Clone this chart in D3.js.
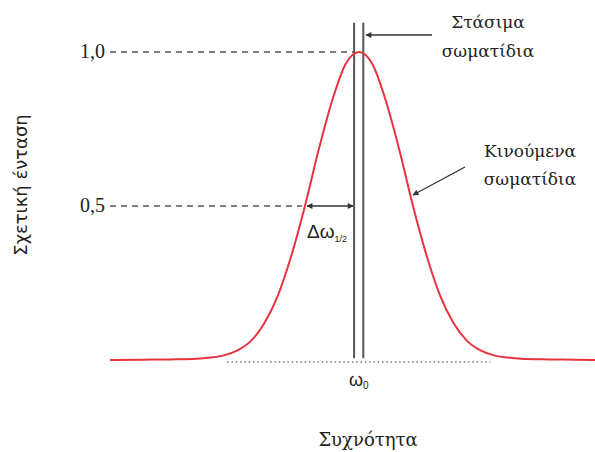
<!DOCTYPE html>
<html>
<head>
<meta charset="utf-8">
<script src="https://cdn.jsdelivr.net/npm/d3@7"></script>
<style>
  html, body { margin: 0; padding: 0; background: #fff; }
  svg { display: block; }
</style>
</head>
<body>
<svg id="chart" width="595" height="452"></svg>
<script>
// Frequency offset from ω0, in units of the half width at half maximum
const freqOffset = [-4.61, -4.0, -3.5, -3.0, -2.75, -2.5, -2.25, -2.0, -1.75, -1.5, -1.25, -1.0, -0.75, -0.5, -0.25,
                    0.0, 0.25, 0.5, 0.75, 1.0, 1.25, 1.5, 1.75, 2.0, 2.25, 2.5, 2.75, 3.0, 3.5, 4.0, 4.37];
// Relative intensity of the moving particles' line
const intensity  = [0.0, 0.001, 0.002, 0.004, 0.008, 0.015, 0.031, 0.062, 0.12, 0.21, 0.34, 0.5, 0.68, 0.84, 0.96,
                    1.0, 0.96, 0.84, 0.68, 0.5, 0.34, 0.21, 0.12, 0.062, 0.031, 0.015, 0.008, 0.004, 0.002, 0.001, 0.0];
// Narrow line of stationary particles (two edges)
const stationaryEdges = [-0.09, 0.08];
const stationaryTop = 1.095;
// Reference levels on the intensity axis
const levelValues = [1.0, 0.5];
const levelLabels = ["1,0", "0,5"];
// Extent of the dotted baseline
const baselineExtent = [-2.44, 2.43];

const svg = d3.select("#chart");
const x = d3.scaleLinear().domain([-4.61, 4.37]).range([110, 595]);
const y = d3.scaleLinear().domain([0, 1]).range([360, 52]);

const grey = "#555";
const red = "#e8333f";
const serif = "'DejaVu Serif', serif";

// arrow markers
const defs = svg.append("defs");
function marker(id, orient) {
  defs.append("marker")
    .attr("id", id).attr("viewBox", "0 0 10 10")
    .attr("refX", 9).attr("refY", 5)
    .attr("markerWidth", 7).attr("markerHeight", 6)
    .attr("markerUnits", "userSpaceOnUse")
    .attr("orient", orient)
    .append("path").attr("d", "M0,0L10,5L0,10z").attr("fill", "#333");
}
marker("head", "auto");
marker("headStart", "auto-start-reverse");

// dotted baseline
svg.append("line")
  .attr("x1", x(baselineExtent[0])).attr("x2", x(baselineExtent[1]))
  .attr("y1", y(0) + 2).attr("y2", y(0) + 2)
  .attr("stroke", "#777").attr("stroke-width", 1.5)
  .attr("stroke-dasharray", "1.5,2.8");

// dashed reference levels and their labels
const halfLeft = x(-1);
levelValues.forEach((v, i) => {
  const xEnd = v === 1 ? x(stationaryEdges[0]) : halfLeft - 3;
  svg.append("line")
    .attr("x1", 110).attr("x2", xEnd)
    .attr("y1", y(v)).attr("y2", y(v))
    .attr("stroke", grey).attr("stroke-width", 1.3)
    .attr("stroke-dasharray", "6,5");
  svg.append("text")
    .attr("x", 105).attr("y", y(v) + 6)
    .attr("text-anchor", "end")
    .attr("font-family", "'Liberation Serif', serif")
    .attr("font-size", 20).attr("fill", "#222")
    .text(levelLabels[i]);
});

// stationary particles: two vertical lines
stationaryEdges.forEach(e => {
  svg.append("line")
    .attr("x1", x(e)).attr("x2", x(e))
    .attr("y1", y(stationaryTop)).attr("y2", y(0.006))
    .attr("stroke", grey).attr("stroke-width", 2);
});

// moving particles: broadened profile
const line = d3.line()
  .x((d, i) => x(freqOffset[i]))
  .y(d => y(d))
  .curve(d3.curveMonotoneX);
svg.append("path")
  .datum(intensity)
  .attr("d", line)
  .attr("fill", "none")
  .attr("stroke", red).attr("stroke-width", 2);

// width at half maximum arrow
svg.append("line")
  .attr("x1", halfLeft + 2).attr("x2", x(stationaryEdges[0]) - 1)
  .attr("y1", y(0.5)).attr("y2", y(0.5))
  .attr("stroke", "#333").attr("stroke-width", 1.3)
  .attr("marker-start", "url(#headStart)")
  .attr("marker-end", "url(#head)");
const dw = svg.append("text")
  .attr("x", 307).attr("y", 238)
  .attr("font-family", "'Liberation Sans', Arial, sans-serif")
  .attr("fill", "#222");
dw.append("tspan").attr("font-size", 19).text("Δω");
dw.append("tspan").attr("font-size", 9).attr("dy", 4).text("1/2");

// ω0 label
const w0 = svg.append("text")
  .attr("x", 349).attr("y", 386)
  .attr("font-family", "'Liberation Sans', Arial, sans-serif")
  .attr("fill", "#222");
w0.append("tspan").attr("font-size", 18).text("ω");
w0.append("tspan").attr("font-size", 10).attr("dy", 3).text("0");

// annotation: stationary particles
svg.append("line")
  .attr("x1", 432).attr("x2", 366)
  .attr("y1", 35).attr("y2", 35)
  .attr("stroke", "#333").attr("stroke-width", 1.3)
  .attr("marker-end", "url(#head)");
[["Στάσιμα", 28], ["σωματίδια", 57]].forEach(([t, yy]) => {
  svg.append("text").attr("x", 488).attr("y", yy)
    .attr("text-anchor", "middle")
    .attr("font-family", serif).attr("font-size", 17).attr("fill", "#222")
    .text(t);
});

// annotation: moving particles
svg.append("line")
  .attr("x1", 465).attr("x2", 413)
  .attr("y1", 167).attr("y2", 195)
  .attr("stroke", "#333").attr("stroke-width", 1.3)
  .attr("marker-end", "url(#head)");
[["Κινούμενα", 157], ["σωματίδια", 185]].forEach(([t, yy]) => {
  svg.append("text").attr("x", 530).attr("y", yy)
    .attr("text-anchor", "middle")
    .attr("font-family", serif).attr("font-size", 17).attr("fill", "#222")
    .text(t);
});

// axis titles
svg.append("text")
  .attr("transform", "translate(27,185) rotate(-90)")
  .attr("text-anchor", "middle")
  .attr("font-family", "'DejaVu Sans', Verdana, sans-serif")
  .attr("font-size", 18).attr("fill", "#222")
  .text("Σχετική ένταση");
svg.append("text")
  .attr("x", 368).attr("y", 446)
  .attr("text-anchor", "middle")
  .attr("font-family", serif).attr("font-size", 18).attr("fill", "#222")
  .text("Συχνότητα");
</script>
</body>
</html>
